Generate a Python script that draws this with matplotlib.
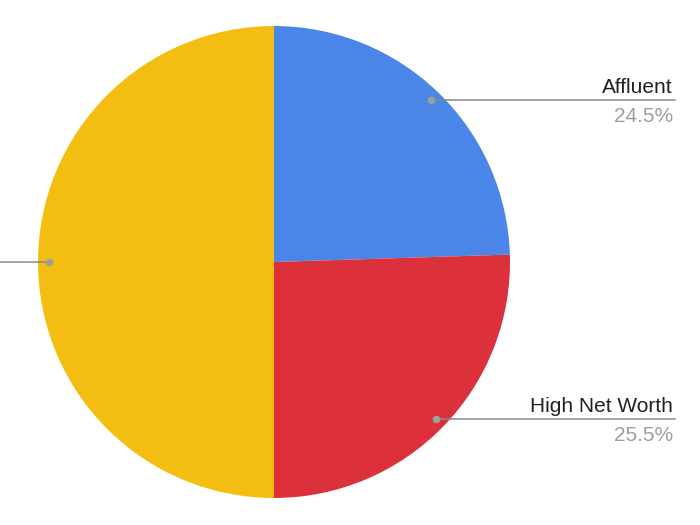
import numpy as np
import matplotlib
matplotlib.use('Agg')
import matplotlib.pyplot as plt

labels = ['Affluent', 'High Net Worth', '']
shares = [24.5, 25.5, 50.0]
pct_text = ['24.5%', '25.5%', '']
colors = ['#4a86e8', '#dc303a', '#f4bd12']

W, H = 700, 525
cx, cy, R = 274, H - 262, 236

fig = plt.figure(figsize=(7, 5.25), dpi=100)
ax = fig.add_axes([0, 0, 1, 1])

wedges, _ = ax.pie(shares, colors=colors, startangle=90, counterclock=False,
                   center=(cx, cy), radius=R, frame=True,
                   wedgeprops=dict(linewidth=0))
ax.set_xlim(0, W)
ax.set_ylim(0, H)
ax.set_aspect('equal')
ax.axis('off')

# leader lines and labels
for w, lab, pct in zip(wedges, labels, pct_text):
    mid = np.deg2rad((w.theta1 + w.theta2) / 2)
    dx = cx + 0.953 * R * np.cos(mid)
    dy = cy + 0.953 * R * np.sin(mid)
    x_end = 675 if np.cos(mid) > 0 else 0
    ax.plot([dx, x_end], [dy, dy], color='#8a8a8a', lw=1.1, zorder=3)
    ax.plot(dx, dy, 'o', color='#9e9e9e', ms=4.5, zorder=4)
    if lab:
        ax.text(x_end - 2, dy + 7, lab, ha='right', va='baseline', fontsize=15,
                color='#222222', family='Liberation Sans')
        ax.text(x_end - 2, dy - 22, pct, ha='right', va='baseline', fontsize=15,
                color='#9e9e9e', family='Liberation Sans')

fig.savefig('out.png', dpi=100)
